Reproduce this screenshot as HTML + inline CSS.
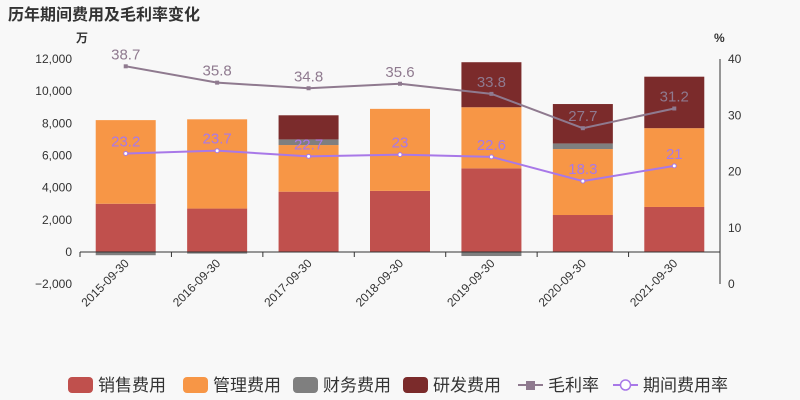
<!DOCTYPE html>
<html><head><meta charset="utf-8">
<style>
body{margin:0;background:#f8f8f8;}
svg{display:block;font-family:"Liberation Sans","Noto Sans CJK SC",sans-serif;}
</style></head>
<body>
<svg id="chart" width="800" height="400">
<rect width="800" height="400" fill="#f8f8f8"/>
<text x="8" y="20" font-size="16" font-weight="bold" fill="#333">历年期间费用及毛利率变化</text>
<text x="76" y="42" font-size="12" font-weight="bold" fill="#333">万</text>
<text x="714" y="42" font-size="12" font-weight="bold" fill="#333">%</text>
<g id="grid"></g><g id="bars"></g><g id="lines"></g><g id="axes"></g>
<g id="legend"></g>
</svg>
<script>
const categories=["2015-09-30","2016-09-30","2017-09-30","2018-09-30","2019-09-30","2020-09-30","2021-09-30"];
const sales=[3000,2700,3750,3800,5200,2300,2800];
const admin=[5200,5550,2900,5100,3800,4100,4900];
const finance=[-200,-100,350,0,-250,350,0];
const rnd=[0,0,1500,0,2800,2450,3200];
const margin=[38.7,35.8,34.8,35.6,33.8,27.7,31.2];
const rate=[23.2,23.7,22.7,23,22.6,18.3,21];
const leftTicks=[-2000,0,2000,4000,6000,8000,10000,12000];
const rightTicks=[0,10,20,30,40];
const NS="http://www.w3.org/2000/svg";
const X0=80,X1=720,bw=(X1-X0)/categories.length;
const yL=v=>252-v*(193/12000);
const yR=v=>284-v*(225/40);
const xC=i=>X0+bw*(i+0.5);
function mk(p,t,a){const e=document.createElementNS(NS,t);for(const k in a)e.setAttribute(k,a[k]);document.getElementById(p)?document.getElementById(p).appendChild(e):p.appendChild(e);return e;}
leftTicks.forEach(v=>{
 const t=mk("axes","text",{x:X0-8,y:yL(v)+4,"text-anchor":"end","font-size":12,fill:"#333"});
 t.textContent=v<0?"−"+Math.abs(v).toLocaleString("en-US"):v.toLocaleString("en-US");
 
 
});
rightTicks.forEach(v=>{
 const t=mk("axes","text",{x:X1+8,y:yR(v)+4,"font-size":12,fill:"#333"});
 t.textContent=v;
 
 
});
mk("axes","line",{x1:X0,x2:X1,y1:yL(0),y2:yL(0),stroke:"#333"});
mk("axes","line",{x1:X1,x2:X1,y1:yR(40),y2:yR(0),stroke:"#333"});
categories.forEach((c,i)=>{
 mk("axes","line",{x1:X0+bw*i,x2:X0+bw*i,y1:yL(0),y2:yL(0)+5,stroke:"#333"});
 const t=mk("axes","text",{x:xC(i)+4,y:yL(0)+12,"text-anchor":"end","font-size":12,fill:"#333",transform:`rotate(-45 ${xC(i)+4} ${yL(0)+12})`});
 t.textContent=c;
 
 
});
mk("axes","line",{x1:X1,x2:X1,y1:yL(0),y2:yL(0)+5,stroke:"#333"});
const series=[[sales,"#c0504d","bar-sales"],[admin,"#f79646","bar-admin"],[finance,"#7f7f7f","bar-finance"],[rnd,"#7b2b2b","bar-rnd"]];
categories.forEach((c,i)=>{
 let pos=0,neg=0;
 series.forEach(([arr,col,name])=>{
  const v=arr[i];if(!v)return;
  let a,b;
  if(v>=0){a=pos;b=pos+v;pos=b;}else{a=neg;b=neg+v;neg=b;}
  const r=mk("bars","rect",{x:xC(i)-30,width:60,y:Math.min(yL(a),yL(b)),height:Math.abs(yL(a)-yL(b)),fill:col});
  
  
 });
});
function line(arr,col,name,labCol,hollow){
 const p=mk("lines","polyline",{points:arr.map((v,i)=>xC(i)+","+yR(v)).join(" "),fill:"none",stroke:col,"stroke-width":2});
 
 
 arr.forEach((v,i)=>{
  const d=hollow?mk("lines","circle",{cx:xC(i),cy:yR(v),r:2,fill:"#fff",stroke:col}):mk("lines","rect",{x:xC(i)-2,y:yR(v)-2,width:4,height:4,fill:col});
  
  
  const t=mk("lines","text",{x:xC(i),y:yR(v)-7,"text-anchor":"middle","font-size":15,fill:labCol});
  t.textContent=v;
  
  
 });
}
line(margin,"#8f7a8f","margin-line","#8f7a8f",false);
line(rate,"#a878e8","rate-line","#a878e8",true);
const leg=[["销售费用","#c0504d","rect"],["管理费用","#f79646","rect"],["财务费用","#7f7f7f","rect"],["研发费用","#7b2b2b","rect"],["毛利率","#8f7a8f","line"],["期间费用率","#a878e8","circ"]];
const lx=[68,183,293,403,518,613];
const lg=document.getElementById("legend");
leg.forEach(([n,c,t],i)=>{
 const g=mk(lg,"g",{});
 
 
 const x=lx[i],y=385;
 if(t==="rect")mk(g,"rect",{x:x,y:y-8,width:25,height:16,rx:4,fill:c});
 else{mk(g,"line",{x1:x,x2:x+25,y1:y,y2:y,stroke:c,"stroke-width":2});
  if(t==="line")mk(g,"rect",{x:x+8,y:y-4,width:9,height:9,fill:c});
  else mk(g,"circle",{cx:x+12.5,cy:y,r:5,fill:"#fff",stroke:c,"stroke-width":1.5});}
 const tx=mk(g,"text",{x:x+30,y:y+6,"font-size":17,fill:"#333"});tx.textContent=n;
});
</script>
</body></html>
